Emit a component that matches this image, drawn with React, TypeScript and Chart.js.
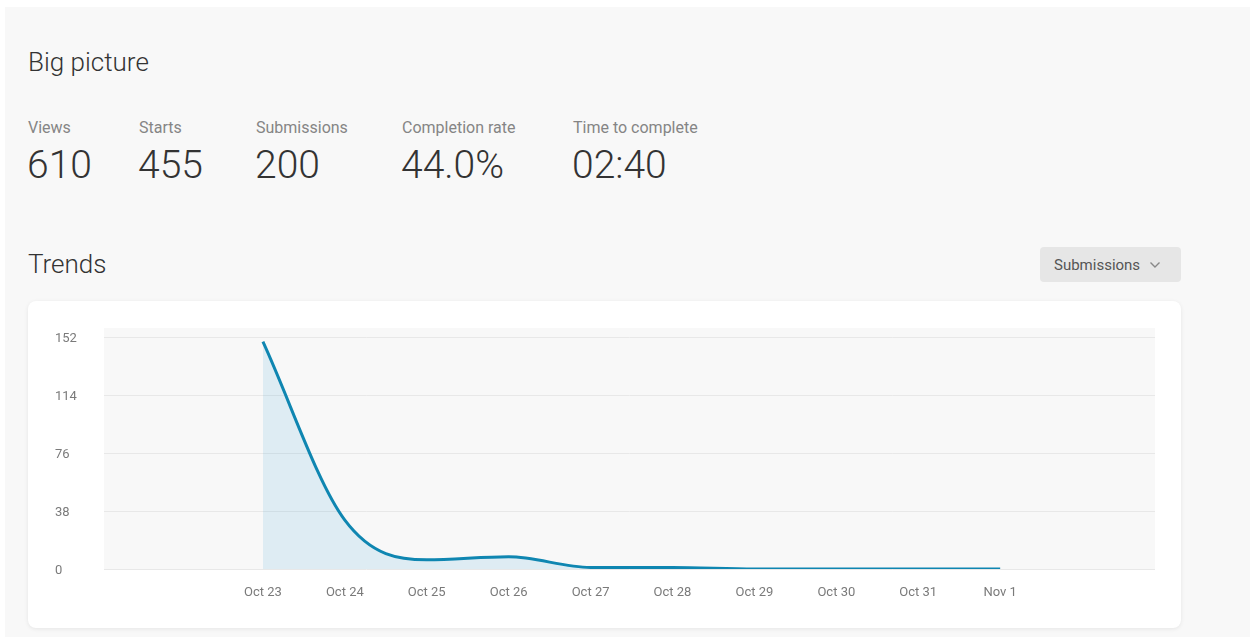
import React, { useEffect, useRef } from "react";
import { Chart, registerables } from "chart.js";

Chart.register(...registerables);

const dates = ["Oct 23", "Oct 24", "Oct 25", "Oct 26", "Oct 27", "Oct 28", "Oct 29", "Oct 30", "Oct 31", "Nov 1"];
const submissions = [149, 32, 6, 8, 1, 1, 0, 0, 0, 0];
const xMin = -1.94;
const xMax = 10.89;
const yTicks = [0, 38, 76, 114, 152];
const yMax = 158;

const statLabels = ["Views", "Starts", "Submissions", "Completion rate", "Time to complete"];
const statValues = ["610", "455", "200", "44.0%", "02:40"];
const statX = [28, 139, 256, 402, 573];

const FONT = "Roboto, 'Liberation Sans', sans-serif";

function TrendChart() {
  const ref = useRef<HTMLCanvasElement | null>(null);
  useEffect(() => {
    if (!ref.current) return;
    const bgPlugin = {
      id: "areaBg",
      beforeDraw(chart: any) {
        const { ctx, chartArea } = chart;
        ctx.save();
        ctx.fillStyle = "#f8f8f8";
        ctx.fillRect(chartArea.left, chartArea.top, chartArea.right - chartArea.left, chartArea.bottom - chartArea.top);
        ctx.restore();
      },
    };
    const chart = new Chart(ref.current, {
      type: "line",
      data: {
        datasets: [
          {
            data: submissions.map((v, i) => ({ x: i, y: v })),
            borderColor: "#0f86b1",
            borderWidth: 3,
            backgroundColor: "rgba(40,155,210,0.12)",
            fill: "origin",
            cubicInterpolationMode: "monotone",
            pointRadius: 0,
            pointHoverRadius: 0,
          },
        ],
      },
      options: {
        animation: false,
        responsive: false,
        maintainAspectRatio: false,
        layout: { padding: { top: 8, right: 0, bottom: 0, left: 0 } },
        plugins: { legend: { display: false }, tooltip: { enabled: false } },
        scales: {
          x: {
            type: "linear",
            min: xMin,
            max: xMax,
            grid: { display: false, drawTicks: false },
            border: { display: false },
            ticks: {
              autoSkip: false,
              maxRotation: 0,
              padding: 16,
              color: "#7a7a7a",
              font: { family: FONT, size: 13 },
              callback: (v: any) => dates[Math.round(Number(v))] ?? "",
            },
            afterBuildTicks(scale: any) {
              scale.ticks = dates.map((_, i) => ({ value: i }));
            },
            afterFit(scale: any) {
              scale.height = 41;
            },
          },
          y: {
            min: 0,
            max: yMax,
            grid: { color: "#e8e8e8", lineWidth: 1, drawTicks: false },
            border: { display: false },
            ticks: {
              crossAlign: "far",
              padding: 0,
              labelOffset: 2,
              color: "#7a7a7a",
              font: { family: FONT, size: 13 },
            },
            afterBuildTicks(scale: any) {
              scale.ticks = yTicks.map((v) => ({ value: v }));
            },
            afterFit(scale: any) {
              scale.width = 49;
            },
          },
        },
      },
      plugins: [bgPlugin],
    });
    return () => chart.destroy();
  }, []);
  return (
    <canvas
      ref={ref}
      width={1100}
      height={290}
      style={{ position: "absolute", left: 55, top: 320, width: 1100, height: 290 }}
    />
  );
}

export default function App() {
  const abs = (left: number, top: number, fs: number, color: string, weight = 400): React.CSSProperties => ({
    position: "absolute",
    left,
    top,
    fontSize: fs,
    lineHeight: 1,
    color,
    fontWeight: weight,
    whiteSpace: "nowrap",
  });
  return (
    <div style={{ position: "fixed", left: 0, top: 0, width: 1250, height: 637, background: "#ffffff", fontFamily: FONT, overflow: "hidden" }}>
      <div style={{ position: "absolute", left: 5, top: 7, right: 0, bottom: 0, background: "#f8f8f8" }} />
      <div style={abs(28, 49, 26, "#333333", 300)}>Big picture</div>
      {statLabels.map((l, i) => (
        <div key={l} style={abs(statX[i], 119.5, 16, "#858585")}>{l}</div>
      ))}
      {statValues.map((v, i) => (
        <div key={v} style={abs(statX[i] - 1, 146, 39, "#333333", 300)}>{v}</div>
      ))}
      <div style={abs(28, 251, 26, "#333333", 300)}>Trends</div>
      <div
        style={{
          position: "absolute",
          left: 1040,
          top: 247,
          width: 141,
          height: 35,
          background: "#e6e6e6",
          borderRadius: 4,
          boxSizing: "border-box",
          paddingLeft: 14,
          display: "flex",
          alignItems: "center",
          fontSize: 15,
          color: "#555555",
        }}
      >
        <span>Submissions</span>
        <svg width="12" height="8" viewBox="0 0 12 8" style={{ marginLeft: 9 }}>
          <polyline points="1.5,1.5 6,6 10.5,1.5" fill="none" stroke="#888" strokeWidth="1.4" />
        </svg>
      </div>
      <div
        style={{
          position: "absolute",
          left: 28,
          top: 301,
          width: 1153,
          height: 327,
          background: "#ffffff",
          borderRadius: 8,
          boxShadow: "0 1px 4px rgba(0,0,0,0.08)",
        }}
      />
      <TrendChart />
    </div>
  );
}
